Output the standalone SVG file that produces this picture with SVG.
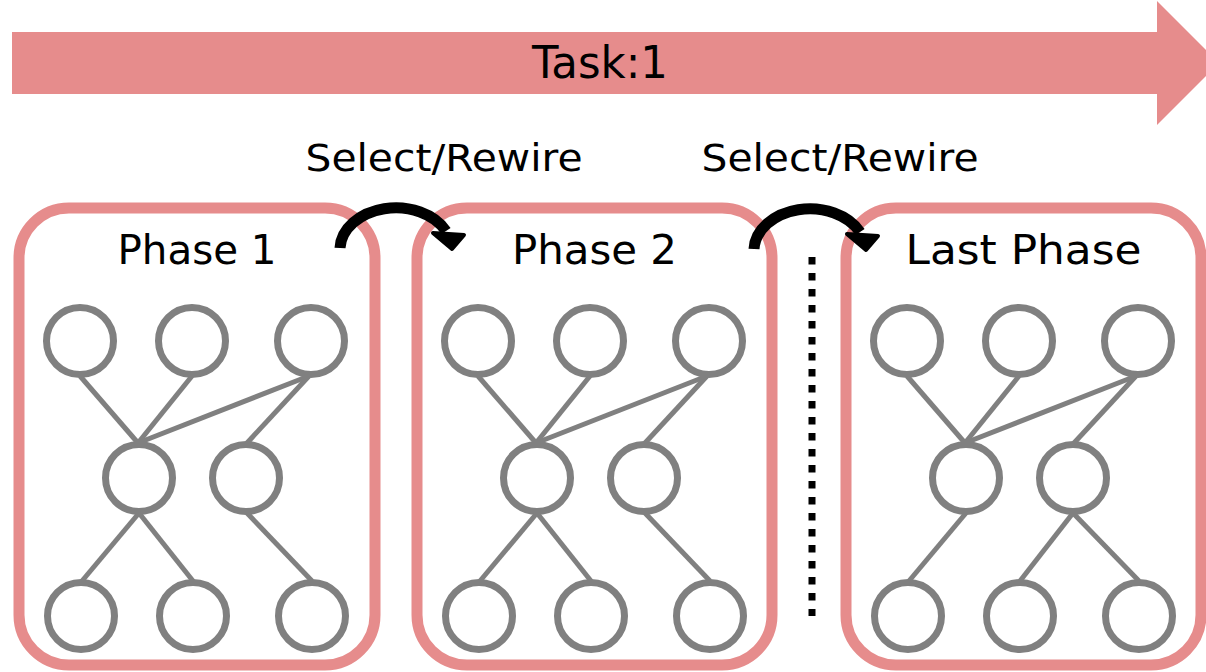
<svg xmlns="http://www.w3.org/2000/svg" xmlns:xlink="http://www.w3.org/1999/xlink" width="1206" height="672" viewBox="0 0 1206 672">
  <style>
    .label { font-family: "DejaVu Sans", "Liberation Sans", sans-serif; fill: #000; text-anchor: middle; }
    .frame { fill: none; stroke: #E68C8C; stroke-width: 11; }
    .unit { fill: #fff; stroke: #808080; stroke-width: 7; }
    .edge { stroke: #808080; stroke-width: 5; fill: none; }
    .sel { fill: none; stroke: #000; stroke-width: 11; }
    .sel-head { fill: #000; stroke: #000; stroke-width: 4; stroke-linejoin: round; }
    .dots { stroke: #000; stroke-width: 7; stroke-dasharray: 7.5 8.5; }
  </style>
  <defs>
    <!-- curved select/rewire arrow, tail at left, head at right -->
    <g id="hop">
      <path class="sel" d="M340,248 A56,42 0 0 1 446,231"/>
      <polygon class="sel-head" points="433,233 452,249 464,235"/>
    </g>
    <!-- nine units of one network, positions relative to its frame -->
    <g id="units">
      <circle class="unit" cx="61" cy="341" r="33.5"/>
      <circle class="unit" cx="173" cy="341" r="33.5"/>
      <circle class="unit" cx="292" cy="341" r="33.5"/>
      <circle class="unit" cx="120" cy="478" r="33.5"/>
      <circle class="unit" cx="227" cy="478" r="33.5"/>
      <circle class="unit" cx="62" cy="616" r="33.5"/>
      <circle class="unit" cx="174" cy="616" r="33.5"/>
      <circle class="unit" cx="293" cy="616" r="33.5"/>
    </g>
  </defs>

  <!-- task timeline -->
  <g id="task">
    <polygon points="12,32 1157,32 1157,1 1219,63 1157,125 1157,94 12,94" fill="#E68C8C"/>
    <text class="label" x="600" y="78" font-size="45" textLength="136" lengthAdjust="spacingAndGlyphs">Task:1</text>
  </g>

  <!-- phase 1 -->
  <g id="phase-1" transform="translate(19,0)">
    <rect class="frame" x="0" y="208" width="356" height="457" rx="50"/>
    <text class="label" x="178" y="264" font-size="41" textLength="159" lengthAdjust="spacingAndGlyphs">Phase 1</text>
    <use xlink:href="#units"/>
  </g>

  <!-- phase 2 -->
  <g id="phase-2" transform="translate(417,0)">
    <rect class="frame" x="0" y="208" width="355" height="457" rx="50"/>
    <text class="label" x="177.5" y="264" font-size="41" textLength="165" lengthAdjust="spacingAndGlyphs">Phase 2</text>
    <use xlink:href="#units"/>
  </g>

  <!-- last phase -->
  <g id="phase-last" transform="translate(846,0)">
    <rect class="frame" x="0" y="208" width="355" height="457" rx="50"/>
    <text class="label" x="177.5" y="264" font-size="41" textLength="236" lengthAdjust="spacingAndGlyphs">Last Phase</text>
    <use xlink:href="#units"/>
  </g>

  <g id="connectors">
    <!-- links inside phase 1 -->
    <g transform="translate(19,0)">
      <line class="edge" x1="61" y1="376" x2="119" y2="443"/>
      <line class="edge" x1="173" y1="376" x2="119" y2="443"/>
      <line class="edge" x1="290" y1="376" x2="119" y2="443"/>
      <line class="edge" x1="290" y1="376" x2="228" y2="443"/>
      <line class="edge" x1="120" y1="513" x2="63" y2="581"/>
      <line class="edge" x1="120" y1="513" x2="174" y2="581"/>
      <line class="edge" x1="228" y1="513" x2="293" y2="581"/>
    </g>
    <!-- links inside phase 2 -->
    <g transform="translate(417,0)">
      <line class="edge" x1="61" y1="376" x2="119" y2="443"/>
      <line class="edge" x1="173" y1="376" x2="119" y2="443"/>
      <line class="edge" x1="290" y1="376" x2="119" y2="443"/>
      <line class="edge" x1="290" y1="376" x2="228" y2="443"/>
      <line class="edge" x1="120" y1="513" x2="63" y2="581"/>
      <line class="edge" x1="120" y1="513" x2="174" y2="581"/>
      <line class="edge" x1="228" y1="513" x2="293" y2="581"/>
    </g>
    <!-- links inside last phase -->
    <g transform="translate(846,0)">
      <line class="edge" x1="61" y1="376" x2="119" y2="443"/>
      <line class="edge" x1="173" y1="376" x2="119" y2="443"/>
      <line class="edge" x1="290" y1="376" x2="119" y2="443"/>
      <line class="edge" x1="290" y1="376" x2="228" y2="443"/>
      <line class="edge" x1="120" y1="513" x2="63" y2="581"/>
      <line class="edge" x1="227" y1="513" x2="174" y2="581"/>
      <line class="edge" x1="227" y1="513" x2="293" y2="581"/>
    </g>

    <!-- transitions between phases -->
    <use xlink:href="#hop"/>
    <use xlink:href="#hop" transform="translate(414,1)"/>
    <text class="label" x="444" y="171" font-size="37" textLength="277" lengthAdjust="spacingAndGlyphs">Select/Rewire</text>
    <text class="label" x="840" y="171" font-size="37" textLength="277" lengthAdjust="spacingAndGlyphs">Select/Rewire</text>

    <!-- elided intermediate phases -->
    <line class="dots" x1="812" y1="257" x2="812" y2="616"/>
  </g>
</svg>
